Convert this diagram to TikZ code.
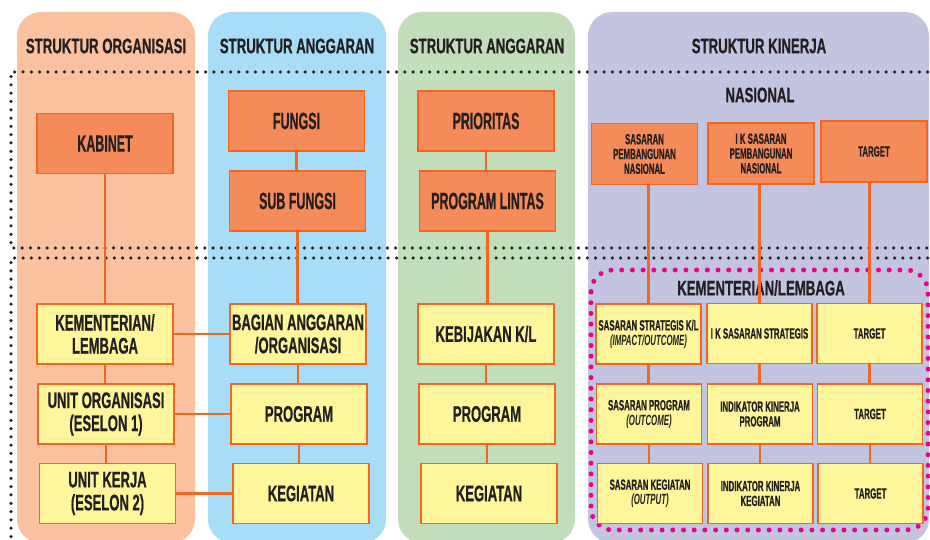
\documentclass[tikz,border=0pt]{standalone}
\usepackage{fontspec}
\newfontfamily\condfont[FakeStretch=0.53, BoldFeatures={FakeBold=0.6}]{Liberation Sans}
\newfontfamily\headfont[FakeStretch=0.63, BoldFeatures={FakeBold=0.6}]{Liberation Sans}
\newfontfamily\yelfont[FakeStretch=0.58, BoldFeatures={FakeBold=0.6}]{Liberation Sans}
\usepackage{xcolor}
\definecolor{ink}{HTML}{231F20}
\definecolor{bgorg}{HTML}{F9C19F}
\definecolor{bgblue}{HTML}{A7DDF6}
\definecolor{bggreen}{HTML}{C2DDB9}
\definecolor{bglav}{HTML}{C3C4DF}
\definecolor{boxorange}{HTML}{F68B5A}
\definecolor{boxyellow}{HTML}{FFF59B}
\definecolor{edgeorange}{HTML}{F26522}
\definecolor{kmagenta}{HTML}{EC008C}
\usepackage{tikz}
\usetikzlibrary{calc}
\tikzset{
  colbg/.style ={rounded corners=24pt, draw=none},
  obox/.style  ={rectangle, draw=edgeorange, line width=1.5pt, fill=boxorange, text=ink, align=center,
                 inner sep=2pt, minimum width=136pt, minimum height=60pt,
                 font=\condfont\bfseries\fontsize{23.5}{24}\selectfont},
  ybox/.style  ={rectangle, draw=edgeorange, line width=1.5pt, fill=boxyellow, text=ink, align=center,
                 inner sep=2pt, minimum width=136pt, minimum height=60pt,
                 font=\yelfont\bfseries\fontsize{22.5}{23}\selectfont},
  nbox/.style  ={rectangle, draw=edgeorange, line width=1.5pt, fill=boxorange, text=ink, align=center,
                 inner sep=2pt, minimum width=106pt, minimum height=61pt,
                 font=\condfont\bfseries\fontsize{14.8}{14.8}\selectfont},
  kbox/.style  ={rectangle, draw=edgeorange, line width=1.5pt, fill=boxyellow, text=ink, align=center,
                 inner sep=1pt, minimum width=105pt, minimum height=60pt,
                 font=\condfont\bfseries\fontsize{14.8}{14.8}\selectfont},
  hlbl/.style  ={text=ink, inner sep=0pt, font=\headfont\bfseries\fontsize{21}{22}\selectfont},
  kline/.style ={draw=edgeorange, line width=2.5pt},
  dotrow/.style={draw=ink, line width=3.5pt, line cap=round, dash pattern=on 0pt off 8.3pt},
  kldots/.style={draw=kmagenta, line width=5pt, line cap=round, dash pattern=on 0pt off 10.7pt},
}
\begin{document}
\begin{tikzpicture}[x=1pt, y=-1pt]
  \useasboundingbox (0,0) rectangle (930,540);
  % latar kolom
  \fill[colbg, bgorg]   (17,12)  rectangle (195,543);
  \fill[colbg, bgblue]  (208,12) rectangle (386,543);
  \fill[colbg, bggreen] (398,12) rectangle (575,543);
  \fill[colbg, bglav]   (588,12) rectangle (929,543);
  % garis titik
  \draw[dotrow] (936,72) -- (11,72) -- (11,248) -- (936,248);
  \draw[dotrow] (936,258) -- (11,258) -- (11,546);
  \draw[kldots, rounded corners=22pt] (591,270) rectangle (928,530);
  % judul
  \node[hlbl] (horg) at (106,46) {STRUKTUR ORGANISASI};
  \node[hlbl] (hag1) at (297,46) {STRUKTUR ANGGARAN};
  \node[hlbl] (hag2) at (487,46) {STRUKTUR ANGGARAN};
  \node[hlbl] (hkin) at (759,46) {STRUKTUR KINERJA};
  \node[hlbl] (lnas) at (760,95) {NASIONAL};
  \node[hlbl] (lkl)  at (761,288) {KEMENTERIAN/LEMBAGA};
  % kolom organisasi
  \node[obox] (kabinet) at (105,143.5) {KABINET};
  \node[ybox] (kl)      at (105,334)   {KEMENTERIAN/\\LEMBAGA};
  \node[ybox] (es1)     at (106,414)   {UNIT ORGANISASI\\(ESELON 1)};
  \node[ybox] (es2)     at (107.5,493.5) {UNIT KERJA\\(ESELON 2)};
  % kolom anggaran
  \node[obox] (fungsi)  at (296.5,121) {FUNGSI};
  \node[obox] (subf)    at (297.5,201) {SUB FUNGSI};
  \node[ybox] (bagian)  at (298,334)   {BAGIAN ANGGARAN\\/ORGANISASI};
  \node[ybox] (prog)    at (299,414)   {PROGRAM};
  \node[ybox] (keg)     at (301,493.5) {KEGIATAN};
  % kolom anggaran (prioritas)
  \node[obox] (prior)   at (486,121)   {PRIORITAS};
  \node[obox] (lintas)  at (487.5,201) {PROGRAM LINTAS};
  \node[ybox] (kebij)   at (486,334)   {KEBIJAKAN K/L};
  \node[ybox] (progb)   at (487,414)   {PROGRAM};
  \node[ybox] (kegb)    at (489,493.5) {KEGIATAN};
  % kolom kinerja, nasional
  \node[nbox] (ssn)  at (644.5,154)   {SASARAN\\PEMBANGUNAN\\NASIONAL};
  \node[nbox] (iksn) at (761,153.5)   {I K SASARAN\\PEMBANGUNAN\\NASIONAL};
  \node[nbox] (tgtn) at (874,151.5)   {TARGET};
  % kolom kinerja, K/L
  \node[kbox] (ss)   at (648.5,334)   {SASARAN STRATEGIS K/L\\{\itshape (IMPACT/OUTCOME)}};
  \node[kbox] (ikss) at (759.5,333.5) {I K SASARAN STRATEGIS};
  \node[kbox] (tgt1) at (869.5,333.5) {TARGET};
  \node[kbox] (sp)   at (649,414)     {SASARAN PROGRAM\\{\itshape (OUTCOME)}};
  \node[kbox] (ikp)  at (760,414)     {INDIKATOR KINERJA\\PROGRAM};
  \node[kbox] (tgt2) at (870,414)     {TARGET};
  \node[kbox] (sk)   at (650,493.5)   {SASARAN KEGIATAN\\{\itshape (OUTPUT)}};
  \node[kbox] (ikk)  at (760.5,493.5) {INDIKATOR KINERJA\\KEGIATAN};
  \node[kbox] (tgt3) at (870.5,493.5) {TARGET};
  % penghubung vertikal
  \foreach \a/\b in {kabinet/kl, kl/es1, es1/es2, fungsi/subf, subf/bagian, bagian/prog, prog/keg,
                     prior/lintas, lintas/kebij, kebij/progb, progb/kegb,
                     ss/sp, sp/sk, ikss/ikp, ikp/ikk, tgt1/tgt2, tgt2/tgt3}
    \draw[kline] (\a.south) -- (\a.south |- \b.north);
  \foreach \a/\b in {ssn/ss, iksn/ikss, tgtn/tgt1}
    \draw[kline] (\a.south -| \b.north) -- (\b.north);
  % penghubung mendatar
  \draw[kline] (kl.east)  -- (kl.east -| bagian.west);
  \draw[kline] (es1.east) -- (es1.east -| prog.west);
  \draw[kline] (es2.east) -- (es2.east -| keg.west);
\end{tikzpicture}
\end{document}
